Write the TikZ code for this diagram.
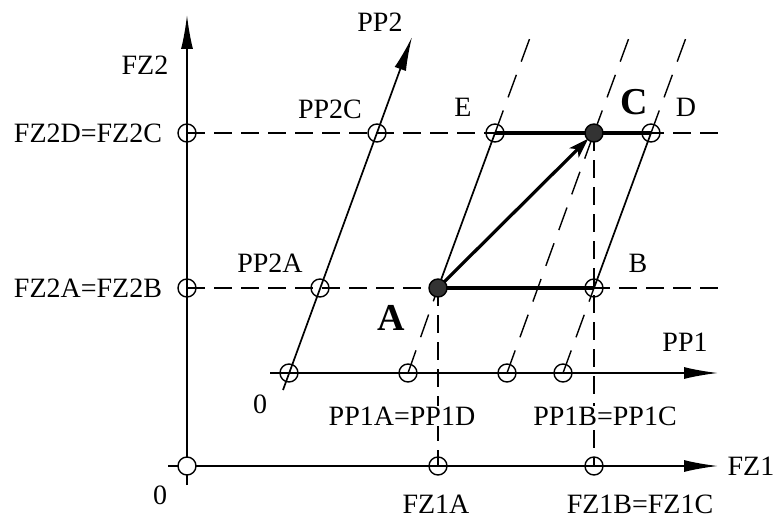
\documentclass[tikz,border=0pt]{standalone}
\usepackage{fontspec}
\setmainfont{Liberation Serif}
\usetikzlibrary{arrows.meta}
\begin{document}
\begin{tikzpicture}[x=1pt,y=-1pt,
 ax/.style={line width=1.7pt},
 hd/.style={line width=1.6pt, dash pattern=on 18pt off 9pt},
 sd/.style={line width=1.4pt, dash pattern=on 24pt off 14pt},
 thk/.style={line width=3.2pt},
 oc/.style={circle,draw,line width=1.4pt,minimum size=18pt,inner sep=0pt},
 fc/.style={oc,fill=black!80},
 lab/.style={font=\fontsize{28}{30}\selectfont, inner sep=1pt},
 blab/.style={font=\fontsize{38}{40}\selectfont\bfseries, inner sep=1pt},
 tip/.style={-{Latex[length=34pt,width=12pt]}}
]
\useasboundingbox (0,0) rectangle (782,519);
% free ends
\coordinate (fz2bot) at (187,485);
\coordinate (fz2top) at (187,15);
\coordinate (fz1left) at (168,466);
\coordinate (fz1right) at (718,466);
\coordinate (pp1left) at (270,373);
\coordinate (pp1right) at (718,373);
\coordinate (pp2bot) at (283,390);
\coordinate (pp2top) at (412,37);
\coordinate (hr1) at (722,133);
\coordinate (hr2) at (722,288);
\coordinate (tE) at (531,35);
\coordinate (tC) at (630,35);
\coordinate (tD) at (687,35);
% points
\coordinate (o0) at (187,466);
\coordinate (fz1a) at (438,466);
\coordinate (fz1b) at (594,466);
\coordinate (fz2a) at (187,288);
\coordinate (fz2d) at (187,133);
\coordinate (p0) at (289,373);
\coordinate (p1a) at (408,373);
\coordinate (p1d) at (507,373);
\coordinate (p1b) at (563,373);
\coordinate (pp2a) at (320,288);
\coordinate (pp2c) at (377,133);
\coordinate (A) at (438,288);
\coordinate (B) at (594,288);
\coordinate (C) at (594,133);
\coordinate (D) at (651,133);
\coordinate (E) at (495,133);
% axes
\draw[ax,tip] (fz2bot) -- (fz2top);
\draw[ax,tip] (fz1left) -- (fz1right);
\draw[ax,tip] (pp1left) -- (pp1right);
\draw[ax,tip] (pp2bot) -- (pp2top);
% horizontal dashed
\draw[hd] (fz2d) -- (hr1);
\draw[hd] (fz2a) -- (hr2);
% vertical dashed
\draw[hd] (A) -- (fz1a);
\draw[hd] (C) -- (fz1b);
% slanted dashed
\draw[sd] (p1a) -- (A);
\draw[sd] (p1d) -- (C);
\draw[sd] (p1b) -- (B);
\draw[sd] (E) -- (tE);
\draw[sd] (C) -- (tC);
\draw[sd] (D) -- (tD);
% parallelogram
\draw[ax] (A) -- (E);
\draw[ax] (B) -- (D);
\draw[thk] (A) -- (B);
\draw[thk] (E) -- (D);
\draw[thk,-{Stealth[length=20pt,width=13pt,inset=5pt]},shorten >=8pt] (A) -- (C);
% circles
\node[oc,fill=white] (o0c) at (o0) {};
\foreach \p in {fz1a,fz1b,fz2a,fz2d,p0,p1a,p1d,p1b,pp2a,pp2c,B,D,E}
  \node[oc] (\p c) at (\p) {};
\node[fc] (Ac) at (A) {};
\node[fc] (Cc) at (C) {};
% labels
\node[lab] (lfz2) at (145,65) {FZ2};
\node[lab] (lpp2) at (380,22) {PP2};
\node[lab] (lpp2c) at (330,109) {PP2C};
\node[lab] (lE) at (463,107) {E};
\node[blab] (lC) at (634,102) {C};
\node[lab] (lD) at (686,107) {D};
\node[lab] (lfz2d) at (88,133) {FZ2D=FZ2C};
\node[lab] (lfz2a) at (88,288) {FZ2A=FZ2B};
\node[lab] (lpp2a) at (270,263) {PP2A};
\node[blab] (lA) at (391,318) {A};
\node[lab] (lB) at (638,263) {B};
\node[lab] (lpp1) at (685,342) {PP1};
\node[lab] (l0p) at (260,404) {0};
\node[lab,fill=white] (lpp1a) at (402,416) {PP1A=PP1D};
\node[lab,fill=white] (lpp1b) at (605,416) {PP1B=PP1C};
\node[lab] (lfz1) at (751,466) {FZ1};
\node[lab] (l0f) at (160,495) {0};
\node[lab] (lfz1a) at (436,504) {FZ1A};
\node[lab] (lfz1b) at (640,504) {FZ1B=FZ1C};
\end{tikzpicture}
\end{document}
